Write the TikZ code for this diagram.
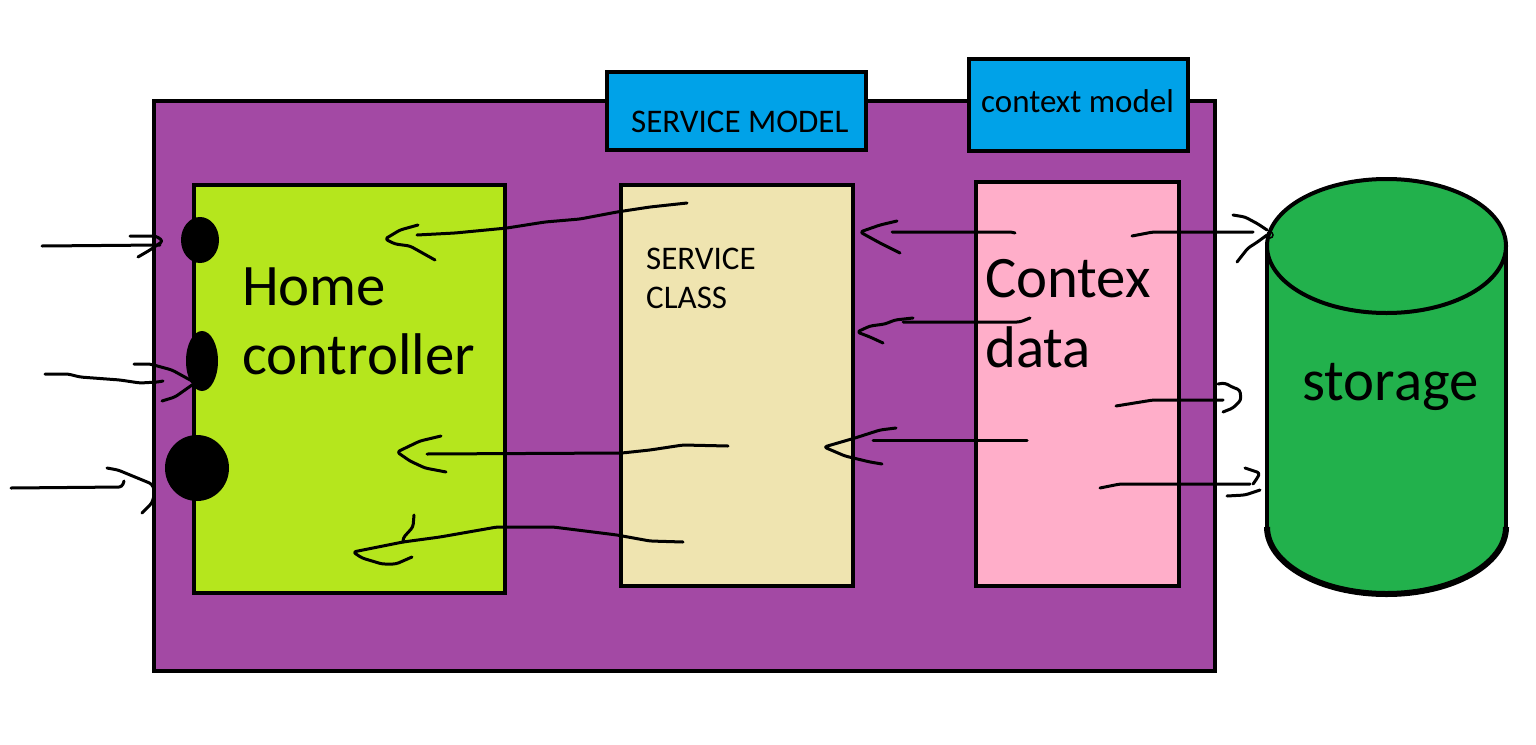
\documentclass[tikz,border=0pt]{standalone}
\usepackage{fontspec}
\setmainfont{Carlito}
\definecolor{paintpurple}{HTML}{A349A4}
\definecolor{paintlime}{HTML}{B5E61D}
\definecolor{paintcream}{HTML}{EFE4B0}
\definecolor{paintpink}{HTML}{FFAEC9}
\definecolor{paintblue}{HTML}{00A2E8}
\definecolor{paintgreen}{HTML}{22B14C}
\tikzset{
  box/.style={draw=black, line width=4pt, rectangle, inner sep=0pt, outer sep=0pt},
  ink/.style={draw=black, line width=3pt, line cap=round, line join=round, rounded corners=3pt},
  dot/.style={fill=black, draw=none},
  bigtxt/.style={anchor=base west, inner sep=0pt, font=\fontsize{58.8pt}{68pt}\selectfont},
  smalltxt/.style={anchor=base west, inner sep=0pt, font=\fontsize{33pt}{39pt}\selectfont},
}
\begin{document}
\begin{tikzpicture}[x=1pt,y=-1pt]
\useasboundingbox (0,0) rectangle (1536,744);
\fill[white] (0,0) rectangle (1536,744);

% outer container
\node[box, fill=paintpurple, minimum width=1061pt, minimum height=570pt] (outer) at (684.5,386) {};
% top model boxes
\node[box, fill=paintblue, minimum width=259pt, minimum height=78pt] (smodel) at (736.5,111) {};
\node[box, fill=paintblue, minimum width=219pt, minimum height=92pt] (cmodel) at (1078.5,105) {};
\node[smalltxt] (smodeltxt) at (631,132) {SERVICE MODEL};
\node[smalltxt] (cmodeltxt) at (981,112) {context model};

% inner boxes
\node[box, fill=paintlime, minimum width=311pt, minimum height=408pt] (home) at (349.75,389) {};
\node[box, fill=paintcream, minimum width=232.5pt, minimum height=401pt] (service) at (736.75,385.5) {};
\node[box, fill=paintpink, minimum width=203.5pt, minimum height=404pt] (context) at (1077.25,384) {};

\node[bigtxt] (home1) at (242,305) {Home};
\node[bigtxt] (home2) at (242,374) {controller};
\node[smalltxt] (svc1) at (646,269) {SERVICE};
\node[smalltxt] (svc2) at (646,308) {CLASS};
\node[bigtxt] (ctx1) at (985,297) {Contex};
\node[bigtxt] (ctx2) at (985,367) {data};

% storage cylinder
\fill[paintgreen] (1267,246) -- (1267,527) arc[start angle=180, end angle=360, x radius=119.5pt, y radius=67pt] -- (1506,246) arc[start angle=0, end angle=180, x radius=119.5pt, y radius=67pt] -- cycle;
\draw[line width=4pt] (1267,246) -- (1267,527);
\draw[line width=4pt] (1506,246) -- (1506,527);
\draw[line width=6pt] (1267,527) arc[start angle=180, end angle=360, x radius=119.5pt, y radius=67pt];
\draw[line width=4pt] (1386.5,246) ellipse[x radius=119.5pt, y radius=67pt];
\node[inner sep=0pt] (storage) at (1386.5,390) {};
\node[bigtxt] (storagetxt) at (1302,400) {storage};

% entry dots on home controller
\fill[dot] (200,240) ellipse[x radius=19pt, y radius=23pt];
\fill[dot] (202,361) ellipse[x radius=16pt, y radius=30pt];
\fill[dot] (197,468) ellipse[x radius=32pt, y radius=33pt];

% incoming arrows (left)
\draw[ink] (42,246) -- (160,245);
\draw[ink] (130,236) -- (156,236) -- (163,241) -- (150,250) -- (138,257);
\draw[ink] (45,374) -- (68,374) -- (80,377) -- (120,380) -- (140,383) -- (158,382) -- (163,381);
\draw[ink] (134,364) -- (150,364) -- (172,370) -- (192,381);
\draw[ink] (162,401) -- (175,397) -- (192,385);
\draw[ink] (11,488) -- (122,487) -- (124,481);
\draw[ink] (107,468) -- (118,470) -- (135,477) -- (152,484) -- (155,492) -- (152,503) -- (142,513);

% service -> home
\draw[ink] (687,203) -- (650,207) -- (617,212) -- (580,219) -- (545,222) -- (507,228) -- (455,233) -- (417,235);
\draw[ink] (418,225) -- (400,230) -- (385,239) -- (395,244) -- (410,246) -- (435,260);
\draw[ink] (728,446) -- (683,445) -- (650,450) -- (622,453) -- (427,454);
\draw[ink] (441,436) -- (420,441) -- (397,452) -- (410,461) -- (425,468) -- (446,472);
\draw[ink] (683,542) -- (650,541) -- (617,535) -- (553,527) -- (497,527) -- (440,537) -- (403,542);
\draw[ink] (414,515) -- (413,527) -- (403,538) -- (403,542);
\draw[ink] (403,542) -- (373,548) -- (353,552) -- (362,558) -- (382,564) -- (396,564) -- (412,557);

% context -> service
\draw[ink] (1015,233) -- (1012,232) -- (892,232);
\draw[ink] (897,221) -- (880,225) -- (860,232) -- (880,243) -- (900,253);
\draw[ink] (1030,318) -- (1020,322) -- (903,322);
\draw[ink] (913,318) -- (895,320) -- (885,324) -- (870,326) -- (857,332) -- (870,337) -- (883,343);
\draw[ink] (1027,440) -- (873,440);
\draw[ink] (896,428) -- (880,430) -- (855,438) -- (824,447) -- (845,456) -- (870,462) -- (882,464);

% context -> storage
\draw[ink] (1132,236) -- (1153,232) -- (1253,232);
\draw[ink] (1233,215) -- (1245,217) -- (1258,224) -- (1267,230);
\draw[ink] (1267,235) -- (1256,243) -- (1248,248) -- (1237,262);
\draw[line width=1.5pt] (1270,235) circle[radius=3pt];
\draw[ink] (1116,406) -- (1153,400) -- (1223,400);
\draw[ink] (1218,384) -- (1225,383) -- (1232,387) -- (1240,390) -- (1241,400) -- (1233,408) -- (1223,412);
\draw[ink] (1100,488) -- (1120,484) -- (1250,484);
\draw[ink] (1245,468) -- (1260,473) -- (1256,480) -- (1253,484);
\draw[ink] (1227,496) -- (1245,495) -- (1260,490);
\end{tikzpicture}
\end{document}
